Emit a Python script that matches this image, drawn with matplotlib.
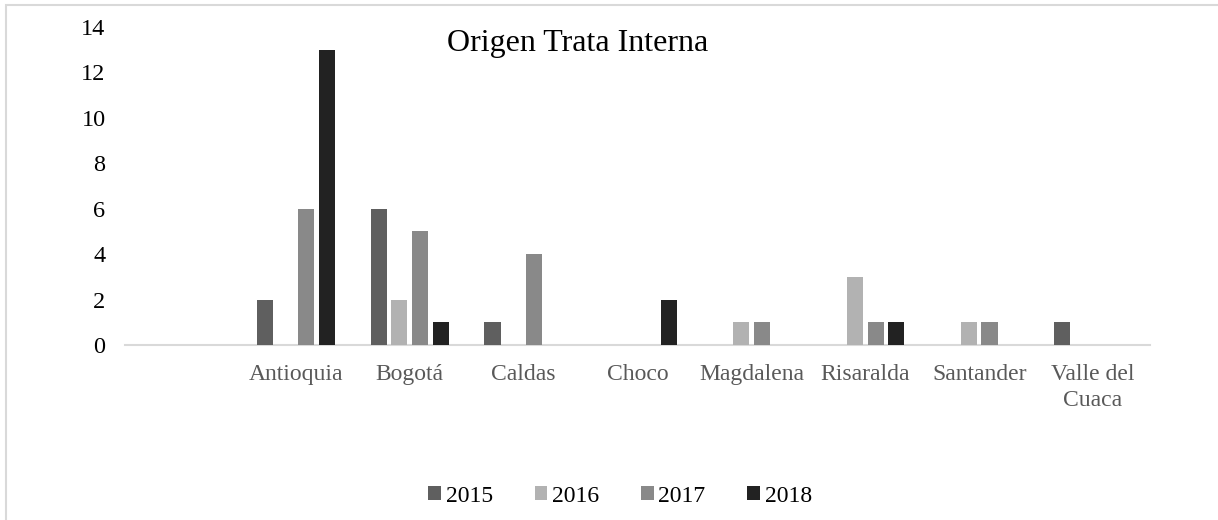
import matplotlib
matplotlib.use("Agg")
import matplotlib.pyplot as plt
import numpy as np
from matplotlib.patches import Rectangle

categories = ["", "Antioquia", "Bogotá", "Caldas", "Choco", "Magdalena",
              "Risaralda", "Santander", "Valle del\nCuaca"]
years = ["2015", "2016", "2017", "2018"]
v2015 = [0, 2, 6, 1, 0, 0, 0, 0, 1]
v2016 = [0, 0, 2, 0, 0, 1, 3, 1, 0]
v2017 = [0, 6, 5, 4, 0, 1, 1, 1, 0]
v2018 = [0, 13, 1, 0, 2, 0, 1, 0, 0]
series = [v2015, v2016, v2017, v2018]
colors = ["#5f5f5f", "#b2b2b2", "#898989", "#222222"]

plt.rcParams['font.family'] = ['Liberation Serif', 'DejaVu Serif']

fig = plt.figure(figsize=(12.18, 5.2), dpi=100)
ax = fig.add_axes([125/1218, 1 - 345/520, (1150-125)/1218, (345-27)/520])

x = np.arange(len(categories))
slot = 0.182
bw = 0.142
for i, (vals, c, y) in enumerate(zip(series, colors, years)):
    xs = x + (i - 1.5) * slot
    ax.bar(xs, vals, width=bw, color=c, label=y, zorder=3)

ax.set_xlim(-0.5, len(categories) - 0.5)
ax.set_ylim(0, 14)
ax.set_yticks(range(0, 15, 2))
ax.set_xticks(x)
ax.set_xticklabels(categories, color="#595959", fontsize=17, linespacing=1.3)
ax.tick_params(axis='both', length=0)
ax.tick_params(axis='x', pad=14)
ax.tick_params(axis='y', pad=14, labelsize=17.5, labelcolor="#000000")
for s in ['top', 'right', 'left']:
    ax.spines[s].set_visible(False)
ax.spines['bottom'].set_color('#d9d9d9')
ax.spines['bottom'].set_linewidth(1.5)

fig.text(578/1218, 1 - 43/520, "Origen Trata Interna", ha='center', va='center',
         fontsize=23, color="#000000")

leg = fig.legend(loc='center', bbox_to_anchor=(620/1218, 1 - 496/520), ncol=4,
                 frameon=False, fontsize=17, handlelength=0.55, handleheight=0.55,
                 handletextpad=0.2, columnspacing=1.75)

fig.patches.append(Rectangle((6/1218, -0.1), 1.2, 1 - 5/520 + 0.1,
                             transform=fig.transFigure, fill=False,
                             edgecolor="#d9d9d9", linewidth=1.5))

fig.savefig("out.png", dpi=100)
